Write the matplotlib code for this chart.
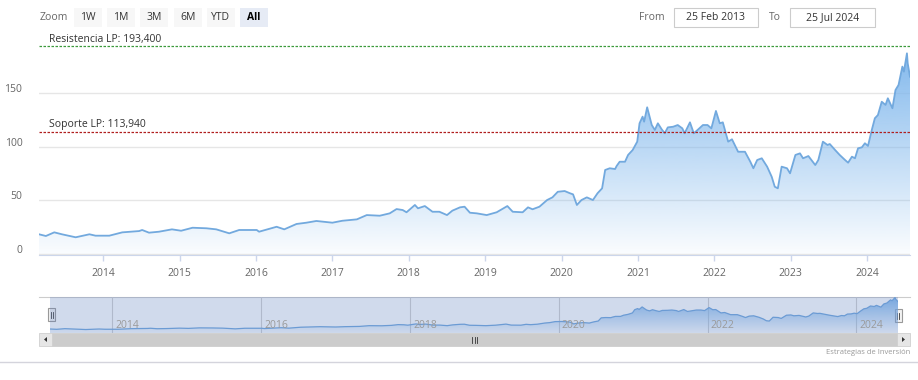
import matplotlib
matplotlib.use("Agg")
import matplotlib.pyplot as plt
import numpy as np
from matplotlib.colors import LinearSegmentedColormap
from matplotlib.patches import Rectangle, Polygon
from matplotlib.transforms import ScaledTranslation

plt.rcParams['font.family'] = ['Open Sans', 'DejaVu Sans']

# ---- datos (años decimales / precio) ----
fechas = [
    2013.16, 2013.25, 2013.36, 2013.46, 2013.64, 2013.82, 2013.90, 2014.08, 2014.25, 2014.47,
    2014.51, 2014.60, 2014.73, 2014.90, 2015.02, 2015.17, 2015.35, 2015.48, 2015.65, 2015.78,
    2016.01, 2016.04, 2016.27, 2016.37, 2016.53, 2016.66, 2016.79, 2017.00, 2017.13, 2017.32,
    2017.45, 2017.62, 2017.75, 2017.84, 2017.92, 2017.97, 2018.08, 2018.12, 2018.21, 2018.31,
    2018.40, 2018.50, 2018.57, 2018.67, 2018.73, 2018.80, 2018.89, 2019.02, 2019.15, 2019.29,
    2019.36, 2019.49, 2019.56, 2019.62, 2019.71, 2019.81, 2019.88, 2019.95, 2020.04, 2020.11,
    2020.15, 2020.20, 2020.26, 2020.33, 2020.41, 2020.47, 2020.53, 2020.57, 2020.63, 2020.70,
    2020.72, 2020.76, 2020.83, 2020.87, 2020.93, 2020.99, 2021.02, 2021.06, 2021.08, 2021.12,
    2021.18, 2021.22, 2021.26, 2021.31, 2021.35, 2021.39, 2021.46, 2021.52, 2021.58, 2021.61,
    2021.68, 2021.73, 2021.78, 2021.85, 2021.91, 2021.96, 2022.02, 2022.07, 2022.11, 2022.18,
    2022.23, 2022.31, 2022.40, 2022.47, 2022.51, 2022.56, 2022.62, 2022.69, 2022.75, 2022.79,
    2022.83, 2022.88, 2022.95, 2022.99, 2023.06, 2023.12, 2023.16, 2023.23, 2023.32, 2023.36,
    2023.42, 2023.48, 2023.51, 2023.58, 2023.64, 2023.71, 2023.75, 2023.80, 2023.84, 2023.88,
    2023.93, 2023.97, 2024.01, 2024.06, 2024.10, 2024.14, 2024.19, 2024.24, 2024.27, 2024.33,
    2024.37, 2024.41, 2024.46, 2024.48, 2024.52, 2024.53, 2024.56,
]
precios = [
    18.4, 16.8, 20.2, 18.4, 15.6, 18.4, 17.1, 17.1, 20.2, 21.4,
    22.4, 19.9, 20.8, 23.0, 21.7, 24.5, 24.0, 23.0, 19.3, 22.4,
    22.4, 20.8, 25.4, 23.0, 28.0, 29.2, 30.8, 29.2, 31.0, 32.3,
    36.3, 35.7, 37.9, 41.9, 41.0, 38.9, 45.7, 42.6, 44.7, 39.4,
    39.4, 36.3, 40.4, 43.5, 44.1, 38.5, 37.9, 36.3, 38.9, 44.7,
    39.4, 38.9, 43.5, 41.7, 44.1, 50.3, 52.8, 58.0, 58.7, 56.6,
    55.6, 45.7, 50.3, 52.8, 50.3, 56.6, 61.2, 78.3, 79.9, 79.2,
    82.0, 86.0, 86.0, 92.3, 96.9, 104.7, 121.8, 128.0, 123.3, 136.7,
    120.2, 115.6, 121.8, 116.2, 112.5, 118.0, 118.6, 120.2, 117.1, 112.5,
    122.7, 112.5, 115.6, 120.2, 120.2, 117.1, 133.3, 121.8, 122.7, 104.7,
    106.9, 95.3, 95.3, 86.0, 79.9, 87.6, 89.2, 81.4, 72.0, 62.7,
    61.2, 81.4, 79.9, 75.2, 92.3, 93.8, 89.2, 91.3, 82.9, 87.6,
    104.7, 101.6, 102.5, 96.9, 92.3, 87.6, 85.1, 90.7, 89.2, 98.5,
    99.4, 103.2, 100.7, 115.6, 126.5, 129.5, 141.9, 138.9, 145.1, 135.8,
    152.8, 157.5, 174.6, 169.9, 187.0, 177.7, 165.2,
]
resistencia = 193.4
soporte = 113.94
anios_eje = [2014, 2015, 2016, 2017, 2018, 2019, 2020, 2021, 2022, 2023, 2024]
anios_nav = [2014, 2016, 2018, 2020, 2022, 2024]
botones = ["1W", "1M", "3M", "6M", "YTD", "All"]
desde, hasta = "25 Feb 2013", "25 Jul 2024"

W, H = 918, 380
fig = plt.figure(figsize=(W / 100, H / 100), dpi=100)


def px_axes(x0, y0, x1, y1, **kw):
    return fig.add_axes([x0 / W, 1 - y1 / H, (x1 - x0) / W, (y1 - y0) / H], **kw)


# capa de interfaz en pixeles
ui = px_axes(0, 0, W, H)
ui.set_xlim(0, W)
ui.set_ylim(H, 0)
ui.axis("off")

ui.text(40, 17.5, "Zoom", fontsize=7.5, color="#666666", va="center", ha="left")
for i, b in enumerate(botones):
    x0 = 74 + i * 33.2
    sel = b == "All"
    ui.add_patch(Rectangle((x0, 8), 28, 19, facecolor="#e6ebf5" if sel else "#f7f7f7",
                           edgecolor="none"))
    ui.text(x0 + 14, 17.5, b, fontsize=7.5, ha="center", va="center",
            color="#000000" if sel else "#333333", fontweight="bold" if sel else "normal")

ui.text(652, 17.5, "From", fontsize=7.5, color="#666666", ha="center", va="center")
ui.text(775, 17.5, "To", fontsize=7.5, color="#666666", ha="center", va="center")
for x0, x1, t in [(674, 758, desde), (790, 875, hasta)]:
    ui.add_patch(Rectangle((x0, 8), x1 - x0, 19, facecolor="white", edgecolor="#cccccc", lw=0.8))
    ui.text((x0 + x1) / 2, 17.5, t, fontsize=7.5, ha="center", va="center", color="#333333")

# ---- grafico principal ----
ax = px_axes(39, 40, 910, 255)
ax.patch.set_alpha(0)
x = np.array(fechas)
y = np.array(precios)
ymin, ymax = -0.9, 199.4
ax.set_xlim(x[0], x[-1])
ax.set_ylim(ymin, ymax)

cmap = LinearSegmentedColormap.from_list(
    "g", [(124 / 255, 181 / 255, 236 / 255, 0.03), (124 / 255, 181 / 255, 236 / 255, 1.0)])
poly = ax.fill_between(x, 0, y, facecolor="none", edgecolor="none")
grad = np.linspace(0, 1, 256).reshape(-1, 1)
im = ax.imshow(grad, extent=[x[0], x[-1], ymin, ymax], origin="lower", aspect="auto",
               cmap=cmap, zorder=1)
im.set_clip_path(poly.get_paths()[0], transform=ax.transData)
ax.plot(x, y, color="#72a9de", lw=1.3, zorder=3, solid_joinstyle="round")

ax.set_yticks([0, 50, 100, 150])
ax.yaxis.grid(True, color="#e6e6e6", lw=1)
ax.set_axisbelow(True)
ax.tick_params(axis="y", length=0, pad=12, labelsize=7.5, labelcolor="#666666")
for lab in ax.get_yticklabels():
    lab.set_transform(lab.get_transform() + ScaledTranslation(0, 0.05, fig.dpi_scale_trans))
ax.set_xticks(anios_eje)
ax.set_xticklabels([str(a) for a in anios_eje])
ax.tick_params(axis="x", length=4, width=1, color="#ccd6eb", pad=5, labelsize=7.5,
               labelcolor="#666666")
for s in ["top", "right", "left"]:
    ax.spines[s].set_visible(False)
ax.spines["bottom"].set_color("#ccd6eb")

ax.axhline(resistencia, color="#3c9a3c", lw=0.9, ls=(0, (2, 1.2)), zorder=4)
ax.axhline(soporte, color="#b01e1e", lw=0.9, ls=(0, (2, 1.2)), zorder=4)
ax.annotate("Resistencia LP: 193,400", xy=(0.011, resistencia), xycoords=("axes fraction", "data"),
            xytext=(0, 1), textcoords="offset points", fontsize=7.5, color="#333333", va="bottom")
ax.annotate("Soporte LP: 113,940", xy=(0.011, soporte), xycoords=("axes fraction", "data"),
            xytext=(0, 1), textcoords="offset points", fontsize=7.5, color="#333333", va="bottom")

# ---- navegador ----
ui.plot([39, 910], [297, 297], color="#cccccc", lw=0.8)
nav = px_axes(50, 297, 898, 333)
nav.patch.set_alpha(0)
nymin, nymax = -3, 190
nav.set_xlim(x[0], x[-1])
nav.set_ylim(nymin, nymax)
npoly = nav.fill_between(x, nymin, y, facecolor="none", edgecolor="none")
nim = nav.imshow(grad, extent=[x[0], x[-1], nymin, nymax], origin="lower", aspect="auto",
                 cmap=cmap, zorder=1)
nim.set_clip_path(npoly.get_paths()[0], transform=nav.transData)
nav.plot(x, y, color="#6ea5dc", lw=0.9, zorder=3)
for a in anios_nav:
    nav.axvline(a, color="#d0d0d0", lw=0.8, zorder=0.5)
    nav.text(a, 0.22, str(a), transform=nav.get_xaxis_transform(), fontsize=7.5,
             color="#9a9a9a", ha="left", va="center", zorder=5)
    nav.texts[-1].set_transform(nav.texts[-1].get_transform()
                                + ScaledTranslation(0.03, 0, fig.dpi_scale_trans))
nav.add_patch(Rectangle((0, 0), 1, 1, transform=nav.transAxes,
                        facecolor=(102 / 255, 133 / 255, 194 / 255, 0.3), edgecolor="none", zorder=4))
nav.axis("off")

# manijas del navegador
for hx, hy in [(51.5, 308), (898, 309)]:
    ui.add_patch(Rectangle((hx - 3.5, hy), 7, 13, facecolor="#f2f2f2", edgecolor="#999999",
                           lw=0.8, zorder=6))
    ui.plot([hx - 1, hx - 1], [hy + 3.5, hy + 9.5], color="#333333", lw=0.6, zorder=7)
    ui.plot([hx + 1, hx + 1], [hy + 3.5, hy + 9.5], color="#333333", lw=0.6, zorder=7)

# barra de desplazamiento
ui.add_patch(Rectangle((39, 333), 871, 13, facecolor="#f2f2f2", edgecolor="#f2f2f2", lw=0.5))
ui.add_patch(Rectangle((52, 333), 845, 13, facecolor="#cccccc", edgecolor="#cccccc", lw=0.5))
for bx, d in [(39, -1), (897, 1)]:
    ui.add_patch(Rectangle((bx, 333), 13, 13, facecolor="#e6e6e6", edgecolor="#cccccc", lw=0.5))
    cx = bx + 6.5
    ui.add_patch(Polygon([(cx - 1.5 * d, 337), (cx - 1.5 * d, 342), (cx + 1.5 * d, 339.5)],
                         closed=True, facecolor="#333333", edgecolor="none"))
for gx in [472, 474.5, 477]:
    ui.plot([gx, gx], [336.5, 342.5], color="#333333", lw=0.6)

ui.text(910, 353, "Estrategias de Inversión", fontsize=5.5, color="#999999", ha="right", va="center")
ui.plot([0, W], [361.5, 361.5], color="#d4d4dc", lw=1)

fig.savefig("out.png", dpi=100)
